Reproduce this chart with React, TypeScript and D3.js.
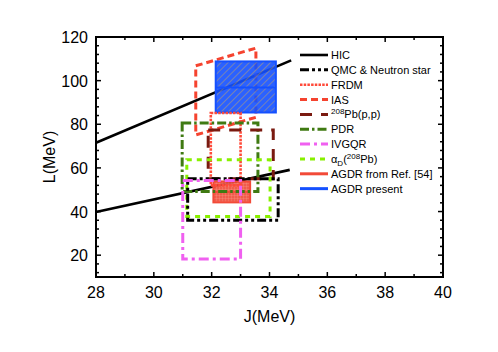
import React from "react";
import * as d3 from "d3";

const W = 498, H = 352;
const M = { left: 96, right: 443, top: 37, bottom: 277 };

const xDomain = [28, 40];
const yDomain = [10, 120];
const xTickLabels = [28, 30, 32, 34, 36, 38, 40];
const yTickLabels = [20, 40, 60, 80, 100, 120];

// HIC band lines [J, L]
const hicUpper = [[28, 71.5], [34.75, 109.3]];
const hicLower = [[28, 39.8], [34.7, 59.1]];

// IAS parallelogram [J, L]
const iasPoly = [[31.45, 106.8], [33.53, 114.9], [33.53, 83.2], [31.45, 75.1]];

// rectangular constraints: J range, L range
const rectNames = ["QMC", "FRDM", "Pbpp", "PDR", "IVGQR", "alphaD"];
const rectJ0 = [31.17, 31.97, 31.88, 30.98, 31.0, 31.14];
const rectJ1 = [34.3, 33.0, 34.13, 33.6, 33.0, 34.02];
const rectL0 = [36.0, 52.0, 55.0, 49.2, 18.3, 37.7];
const rectL1 = [55.0, 85.2, 77.4, 80.6, 54.2, 63.7];

// AGDR filled boxes: J range, L range, central L
const agdrNames = ["ref54", "present"];
const agdrJ0 = [32.06, 32.14];
const agdrJ1 = [33.33, 34.22];
const agdrL0 = [44.2, 85.4];
const agdrL1 = [53.8, 108.8];
const agdrMid = [49.0, 96.8];

const styles: Record<string, { color: string; dash: string; width: number }> = {
  HIC: { color: "#000", dash: "", width: 2.6 },
  QMC: { color: "#000", dash: "9,3,3,3,3,3", width: 3 },
  FRDM: { color: "#ff4a3a", dash: "2.5,1.2", width: 2.6 },
  IAS: { color: "#f5432f", dash: "7,4", width: 3 },
  Pbpp: { color: "#7a1a10", dash: "12,9", width: 3 },
  PDR: { color: "#3f7a12", dash: "9,3,2.5,3", width: 3 },
  IVGQR: { color: "#f060f0", dash: "10,4,3,4", width: 3 },
  alphaD: { color: "#88f000", dash: "5,5", width: 3 },
  ref54: { color: "#f24a38", dash: "", width: 3 },
  present: { color: "#1450ff", dash: "", width: 3 },
};

const legendKeys = ["HIC", "QMC", "FRDM", "IAS", "Pbpp", "PDR", "IVGQR", "alphaD", "ref54", "present"];

const FONT = "'Liberation Sans', Arial, sans-serif";

function LegendLabel({ k }: { k: string }) {
  if (k === "HIC") return <>HIC</>;
  if (k === "QMC") return <>QMC &amp; Neutron star</>;
  if (k === "FRDM") return <>FRDM</>;
  if (k === "IAS") return <>IAS</>;
  if (k === "Pbpp")
    return (
      <>
        <tspan fontSize={8} dy={-4}>208</tspan>
        <tspan dy={4}>Pb(p,p)</tspan>
      </>
    );
  if (k === "PDR") return <>PDR</>;
  if (k === "IVGQR") return <>IVGQR</>;
  if (k === "alphaD")
    return (
      <>
        α<tspan fontSize={8} dy={3}>D</tspan>
        <tspan dy={-3}>(</tspan>
        <tspan fontSize={8} dy={-4}>208</tspan>
        <tspan dy={4}>Pb)</tspan>
      </>
    );
  if (k === "ref54") return <>AGDR from Ref. [54]</>;
  return <>AGDR present</>;
}

export default function App() {
  const x = d3.scaleLinear().domain(xDomain).range([M.left, M.right]);
  const y = d3.scaleLinear().domain(yDomain).range([M.bottom, M.top]);
  const line = d3.line<number[]>().x((d) => x(d[0])).y((d) => y(d[1]));

  const xMinor = d3.range(28, 40.001, 1);
  const yMinor = d3.range(12, 120.001, 4);

  const rectEl = (i: number) => {
    const s = styles[rectNames[i]];
    return (
      <rect
        key={rectNames[i]}
        x={x(rectJ0[i])}
        y={y(rectL1[i])}
        width={x(rectJ1[i]) - x(rectJ0[i])}
        height={y(rectL0[i]) - y(rectL1[i])}
        fill="none"
        stroke={s.color}
        strokeWidth={s.width}
        strokeDasharray={s.dash}
      />
    );
  };

  const agdrEl = (i: number) => {
    const s = styles[agdrNames[i]];
    const x0 = x(agdrJ0[i]), x1 = x(agdrJ1[i]);
    return (
      <g key={agdrNames[i]}>
        <rect
          x={x0}
          y={y(agdrL1[i])}
          width={x1 - x0}
          height={y(agdrL0[i]) - y(agdrL1[i])}
          fill={`url(#pat-${agdrNames[i]})`}
          fillOpacity={0.9}
          stroke={s.color}
          strokeWidth={2}
        />
        <line x1={x0} x2={x1} y1={y(agdrMid[i])} y2={y(agdrMid[i])} stroke={s.color} strokeWidth={2} />
      </g>
    );
  };

  const legX0 = 300, legX1 = 328, legY0 = 55, legDy = 14.85;

  return (
    <svg width={W} height={H} style={{ position: "absolute", left: 0, top: 0, background: "#fff" }} fontFamily={FONT}>
      <defs>
        <pattern id="pat-present" width={5} height={5} patternUnits="userSpaceOnUse" patternTransform="rotate(45)">
          <rect width={5} height={5} fill="#1450ff" />
          <line x1={0} y1={0} x2={0} y2={5} stroke="#c9a24a" strokeWidth={0.9} />
        </pattern>
        <pattern id="pat-ref54" width={3} height={3} patternUnits="userSpaceOnUse">
          <rect width={3} height={3} fill="#f04a38" />
          <line x1={0} y1={0} x2={3} y2={0} stroke="#f89080" strokeWidth={0.6} />
          <line x1={0} y1={0} x2={0} y2={3} stroke="#f89080" strokeWidth={0.6} />
        </pattern>
      </defs>

      {/* HIC lines */}
      <path d={line(hicUpper as any) || ""} stroke="#000" strokeWidth={2.6} fill="none" />
      <path d={line(hicLower as any) || ""} stroke="#000" strokeWidth={2.6} fill="none" />

      {/* IAS parallelogram */}
      <path
        d={(line(iasPoly as any) || "") + "Z"}
        fill="none"
        stroke={styles.IAS.color}
        strokeWidth={styles.IAS.width}
        strokeDasharray={styles.IAS.dash}
      />

      {agdrEl(1)}
      {agdrEl(0)}

      {[1, 3, 2, 5, 0, 4].map((i) => rectEl(i))}

      {/* frame */}
      <rect x={M.left} y={M.top} width={M.right - M.left} height={M.bottom - M.top} fill="none" stroke="#000" strokeWidth={2} />

      {/* x ticks */}
      {xMinor.map((v) => {
        const major = Math.abs(v % 2) < 1e-6;
        const len = major ? 5 : 3;
        return (
          <g key={"xt" + v}>
            <line x1={x(v)} x2={x(v)} y1={M.bottom} y2={M.bottom - len} stroke="#000" strokeWidth={1.5} />
            <line x1={x(v)} x2={x(v)} y1={M.top} y2={M.top + len} stroke="#000" strokeWidth={1.5} />
          </g>
        );
      })}
      {/* y ticks */}
      {yMinor.map((v) => {
        const major = Math.abs(v % 20) < 1e-6;
        const len = major ? 5 : 3;
        return (
          <g key={"yt" + v}>
            <line x1={M.left} x2={M.left + len} y1={y(v)} y2={y(v)} stroke="#000" strokeWidth={1.5} />
            <line x1={M.right} x2={M.right - len} y1={y(v)} y2={y(v)} stroke="#000" strokeWidth={1.5} />
          </g>
        );
      })}

      {xTickLabels.map((v) => (
        <text key={"xl" + v} x={x(v)} y={298} fontSize={16} textAnchor="middle" fill="#000">
          {v}
        </text>
      ))}
      {yTickLabels.map((v) => (
        <text key={"yl" + v} x={88} y={y(v) + 6} fontSize={16} textAnchor="end" fill="#000">
          {v}
        </text>
      ))}

      <text x={(M.left + M.right) / 2} y={322} fontSize={16} textAnchor="middle">J(MeV)</text>
      <text transform={`translate(55,${(M.top + M.bottom) / 2}) rotate(-90)`} fontSize={16} textAnchor="middle">
        L(MeV)
      </text>

      {/* legend */}
      {legendKeys.map((k, i) => {
        const s = styles[k];
        const ly = legY0 + i * legDy;
        return (
          <g key={"lg" + k}>
            <line x1={legX0} x2={legX1} y1={ly} y2={ly} stroke={s.color} strokeWidth={s.width} strokeDasharray={s.dash} />
            <text x={legX1 + 3} y={ly + 4} fontSize={11} fill="#000">
              <LegendLabel k={k} />
            </text>
          </g>
        );
      })}
    </svg>
  );
}
